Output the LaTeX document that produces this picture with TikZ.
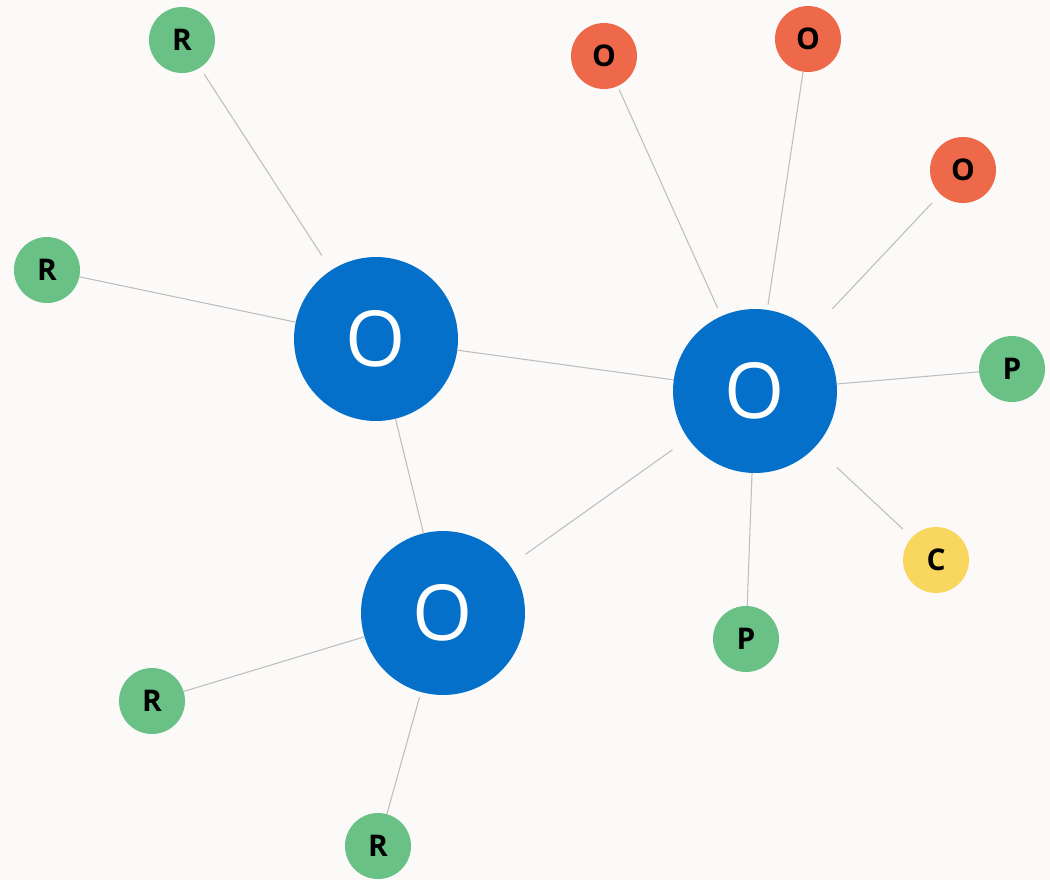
\documentclass[tikz,border=0pt]{standalone}
\usepackage{fontspec}
\setmainfont{Open Sans}
\usepackage{tikz}
\usetikzlibrary{positioning}

\definecolor{hubblue}{HTML}{0570C9}
\definecolor{leafgreen}{HTML}{6AC186}
\definecolor{leafred}{HTML}{EE694A}
\definecolor{leafyellow}{HTML}{F9D65D}
\definecolor{paper}{HTML}{FBFAF9}
\definecolor{linkgray}{HTML}{BEBEBE}

\begin{document}
\begin{tikzpicture}[x=0.02cm,y=-0.02cm,
        hub/.style={circle,fill=hubblue,text=white,minimum size=3.28cm,inner sep=0pt,outer sep=0pt,
                font=\fontsize{44}{44}\selectfont},
        leaf/.style={circle,minimum size=1.32cm,inner sep=0pt,outer sep=0pt,
                font=\fontsize{17}{17}\selectfont\bfseries},
        link/.style={draw=linkgray,line width=0.6pt}]

        \fill[paper] (0,0) rectangle (1050,880);
        \useasboundingbox (0,0) rectangle (1050,880);

        % hubs
        \node[hub] (h1) at (376,339) {O};
        \node[hub] (h2) at (755,391) {O};
        \node[hub] (h3) at (443,613) {O};

        % leaves
        \node[leaf,fill=leafgreen] (r1) at (182,40) {R};
        \node[leaf,fill=leafgreen] (r2) at (47,270) {R};
        \node[leaf,fill=leafgreen] (r3) at (152,701) {R};
        \node[leaf,fill=leafgreen] (r4) at (378,846) {R};
        \node[leaf,fill=leafred] (o1) at (604,56) {O};
        \node[leaf,fill=leafred] (o2) at (808,39) {O};
        \node[leaf,fill=leafred] (o3) at (963,170) {O};
        \node[leaf,fill=leafgreen] (p1) at (1012,369) {P};
        \node[leaf,fill=leafgreen] (p2) at (746,639) {P};
        \node[leaf,fill=leafyellow] (c) at (936,560) {C};

        % links
        \foreach \a/\b/\s/\t in {r1/h1/4.5/10, r2/h1/0/0, h1/h2/0/0, h1/h3/0/0, h2/h3/11/11,
                r3/h3/0/0, r4/h3/0/3, p2/h2/0/0, c/h2/7/17, o3/h2/7/17.5,
                o1/h2/2/5, o2/h2/0/3, p1/h2/0/0}
                \draw[link,shorten <=\s pt,shorten >=\t pt] (\a) -- (\b);
\end{tikzpicture}
\end{document}
